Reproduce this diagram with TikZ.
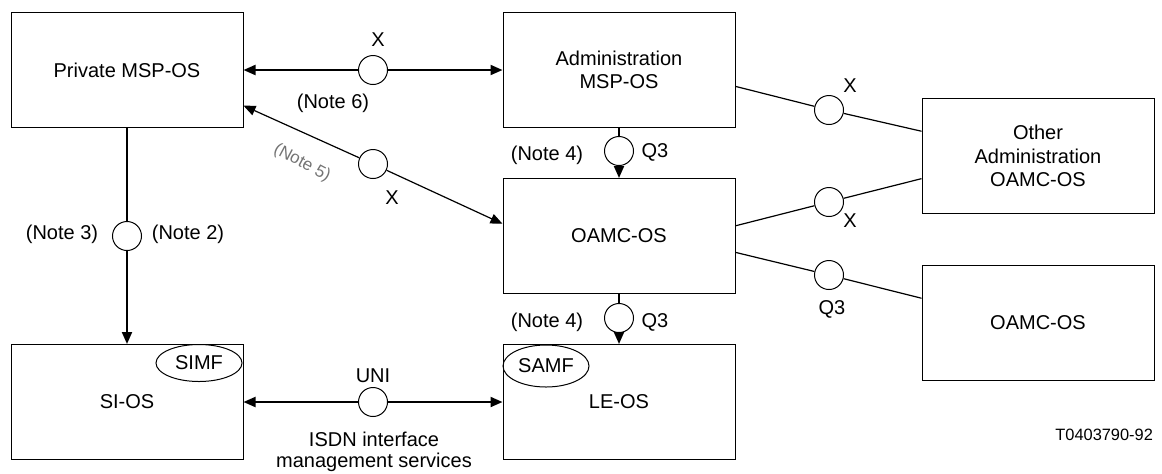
\documentclass[tikz,border=0pt]{standalone}
\usepackage{fontspec}
\setmainfont{Liberation Sans}
\usetikzlibrary{arrows.meta, positioning, shapes.geometric}

\begin{document}
\begin{tikzpicture}[
    x=0.5pt, y=-0.5pt,
    box/.style={rectangle, draw, line width=0.5pt, minimum width=116pt, minimum height=57.5pt, align=center, inner sep=2pt},
    iface/.style={circle, draw, line width=0.5pt, minimum size=14.5pt, inner sep=0pt},
    func/.style={ellipse, draw, line width=0.5pt, minimum width=43pt, inner sep=0pt},
    link/.style={line width=1pt},
    thin link/.style={line width=0.6pt},
    >={Triangle[length=6pt, width=5pt]},
    every node/.style={font=\fontsize{10}{11.8}\selectfont}
    ]
    \useasboundingbox (0,0) rectangle (1162,473);

    % MSP OSs
    \node[box] (priv) at (127,70) {Private MSP-OS};
    \node[box] (adm) at (619,70) {Administration\\MSP-OS};

    % OAMC OSs
    \node[box] (oamc) at (619,236) {OAMC-OS};
    \node[box] (other) at (1038,156) {Other\\Administration\\OAMC-OS};
    \node[box] (oamcr) at (1038,323) {OAMC-OS};

    % SI-OS and LE-OS
    \node[box] (si) at (127,402) {SI-OS};
    \node[box] (le) at (619,402) {LE-OS};
    \node[func, minimum height=18.5pt] (simf) at (199,363) {SIMF};
    \node[func, minimum height=21pt] (samf) at (546,366) {SAMF};

    % Interfaces
    \node[iface] (x1) at (373,70) {};
    \node[iface] (x2) at (373,164) {};
    \node[iface] (q1) at (619,151) {};
    \node[iface] (q2) at (619,318) {};
    \node[iface] (n23) at (127,236) {};
    \node[iface] (uni) at (373,402) {};
    \node[iface] (x3) at (829,110) {};
    \node[iface] (x4) at (829,202) {};
    \node[iface] (q3) at (829,275) {};

    % Private MSP-OS links
    \draw[link, <-] (priv.east) -- (x1);
    \draw[link, ->] (x1) -- (adm.west);
    \draw[thin link, <-] (priv.-17) -- (x2);
    \draw[thin link, ->] (x2) -- (oamc.174);
    \draw[link] (priv.south) -- (n23);
    \draw[link, ->] (n23) -- (si.north);

    % Q3 links
    \draw[link] (adm.south) -- (q1);
    \draw[link, ->] (q1) -- (oamc.north);
    \draw[link] (oamc.south) -- (q2);
    \draw[link, ->] (q2) -- (le.north);

    % UNI
    \draw[link, <-] (si.east) -- (uni);
    \draw[link, ->] (uni) -- (le.west);

    % Links to the right
    \draw[thin link] (adm.-8) -- (x3);
    \draw[thin link] (x3) -- (other.168.7);
    \draw[thin link] (oamc.5) -- (x4);
    \draw[thin link] (x4) -- (other.191);
    \draw[thin link] (oamc.-8) -- (q3);
    \draw[thin link] (q3) -- (oamcr.168);

    % Labels
    \node (lx1) at (378,40) {X};
    \node (ln6) at (333,103) {(Note 6)};
    \node (lx2) at (392,198) {X};
    \node[rotate=-28, text=black!55, inner sep=0pt, font=\fontsize{8.5}{10}\selectfont] (ln5) at (302,163) {(Note 5)};
    \node (ln4a) at (547,155) {(Note 4)};
    \node (lq1) at (655,152) {Q3};
    \node (ln4b) at (547,322) {(Note 4)};
    \node (lq2) at (655,322) {Q3};
    \node (ln3) at (62,234) {(Note 3)};
    \node (ln2) at (188,234) {(Note 2)};
    \node (luni) at (373,376) {UNI};
    \node[align=center] (lisdn) at (374,452) {ISDN interface\\[-1.2pt]management services};
    \node (lx3) at (850,86) {X};
    \node (lx4) at (850,221) {X};
    \node (lq3) at (832,309) {Q3};
    \node[font=\fontsize{8.2}{10}\selectfont, anchor=east] (fig) at (1160,435) {T0403790-92};

\end{tikzpicture}
\end{document}
